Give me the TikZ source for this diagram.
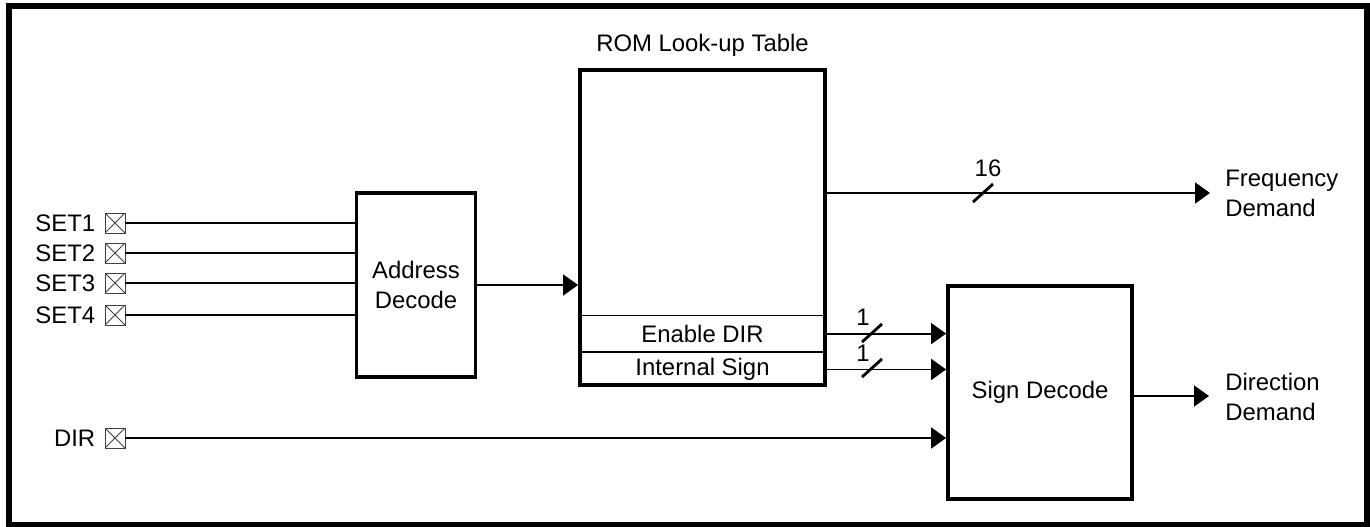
\documentclass[tikz,border=0pt]{standalone}
\usepackage{fontspec}
\setmainfont{Liberation Sans}
\usetikzlibrary{arrows.meta, positioning, calc}

\begin{document}
\begin{tikzpicture}[x=0.02cm, y=-0.02cm,
      font=\fontsize{13.6}{17}\selectfont,
      block/.style={rectangle, draw=black, line width=2.2pt, fill=white, inner sep=0pt, align=center},
      row/.style={rectangle, draw=black, line width=0.5pt, minimum width=4.9cm, inner sep=0pt},
      pin/.style={rectangle, draw=black!75, line width=0.5pt, minimum size=0.4cm, inner sep=0pt,
        path picture={\draw[black!75, line width=0.5pt]
          (path picture bounding box.north west) -- (path picture bounding box.south east)
          (path picture bounding box.north east) -- (path picture bounding box.south west);}},
      wire/.style={line width=1.1pt},
      arr/.style={wire, -{Triangle[length=0.3cm, width=0.42cm]}},
      tick/.style={line width=1.6pt},
      txt/.style={inner sep=0pt, align=left}
    ]
      \useasboundingbox (0,0) rectangle (1370,527);
      % outer frame
      \draw[line width=3.2pt] (9,6) rectangle (1367,525);

      % blocks
      \node[block, minimum width=2.38cm, minimum height=3.68cm] (addr) at (416,285) {Address\\Decode};
      \node[block, minimum width=4.9cm, minimum height=6.3cm] (rom) at (702.5,227.5) {};
      \node[row, minimum height=0.68cm, anchor=south] (isg) at (rom.south) {Internal Sign};
      \node[row, minimum height=0.72cm, anchor=south] (en) at (isg.north) {Enable DIR};
      \node[txt, above=0.22cm of rom] (romlbl) {ROM Look-up Table};
      \node[block, minimum width=3.68cm, minimum height=4.26cm] (sd) at (1040,392.5) {Sign Decode};

      % input pins
      \node[pin] (p1) at (115,223) {};
      \node[pin] (p2) at (115,253) {};
      \node[pin] (p3) at (115,283) {};
      \node[pin] (p4) at (115,315) {};
      \node[pin] (p5) at (115,438) {};
      \node[txt, left=0.18cm of p1] (l1) {SET1};
      \node[txt, left=0.18cm of p2] (l2) {SET2};
      \node[txt, left=0.18cm of p3] (l3) {SET3};
      \node[txt, left=0.18cm of p4] (l4) {SET4};
      \node[txt, left=0.18cm of p5] (l5) {DIR};

      \foreach \p in {p1,p2,p3,p4}
        \draw[wire] (\p) -- (\p -| addr.west);
      \draw[arr] (addr.east) -- (addr.east -| rom.west);
      \draw[arr] (p5) -- (p5 -| sd.west);

      % frequency output
      \coordinate (fq) at (1210,193);
      \draw[arr] (rom.east |- fq) -- (fq);
      \coordinate (t16) at (983,193);
      \draw[tick] ($(t16)+(-10,9)$) -- ($(t16)+(10,-9)$);
      \node[txt] (n16) at (988,168) {16};
      \node[txt, anchor=west] (fqlbl) at (1225,193) {Frequency\\Demand};

      % sign bits
      \draw[arr] (en -| rom.east) -- (en -| sd.west);
      \draw[arr] (isg -| rom.east) -- (isg -| sd.west);
      \coordinate (t1) at (872,333);
      \coordinate (t2) at (872,368);
      \draw[tick] ($(t1)+(-10,9)$) -- ($(t1)+(10,-9)$);
      \draw[tick] ($(t2)+(-10,9)$) -- ($(t2)+(10,-9)$);
      \node[txt] (n1a) at (863,317) {1};
      \node[txt] (n1b) at (863,353) {1};

      % direction output
      \coordinate (dd) at (1209,396);
      \draw[arr] (sd.east |- dd) -- (dd);
      \node[txt, anchor=west] (ddlbl) at (1225,397) {Direction\\Demand};
    \end{tikzpicture}
\end{document}
